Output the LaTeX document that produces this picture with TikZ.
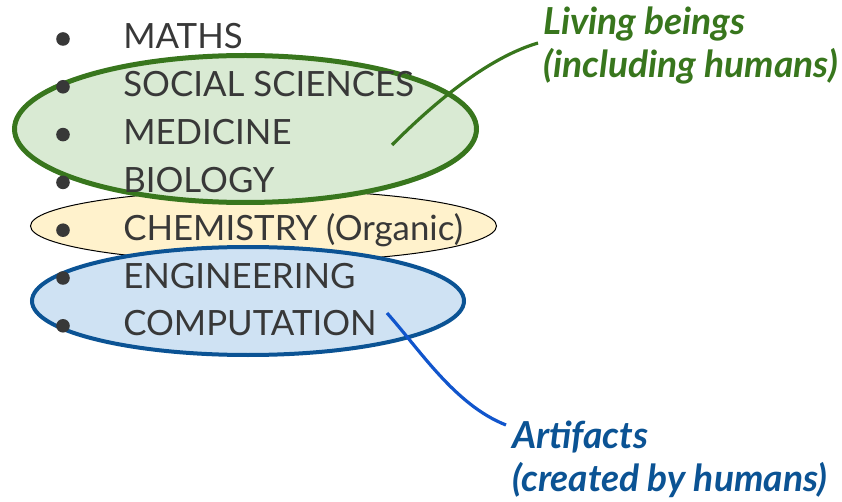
\documentclass[tikz,border=0pt]{standalone}
\usepackage{fontspec}
\setmainfont{Lato}
\definecolor{inkgray}{HTML}{383838}
\definecolor{leafgreen}{HTML}{38761D}
\definecolor{leaffill}{HTML}{D9EAD3}
\definecolor{chemfill}{HTML}{FFF2CC}
\definecolor{toolblue}{HTML}{0B5394}
\definecolor{toolfill}{HTML}{CFE2F3}
\definecolor{lineblue}{HTML}{1155CC}
\tikzset{
    item/.style={anchor=base west,inner sep=0,text=inkgray,font=\fontsize{26.1}{32}\selectfont},
    tag/.style={anchor=north west,inner sep=0,align=left,font=\fontsize{27.9}{32.25}\selectfont\bfseries\itshape},
}
\begin{document}
\begin{tikzpicture}[x=0.75pt,y=-0.75pt]
    \useasboundingbox (0,0) rectangle (842,502);

    % the three groups
    \draw[line width=0.75pt,black,fill=chemfill] (263.5,226) ellipse [x radius=233,y radius=36];
    \draw[line width=3.75pt,leafgreen,fill=leaffill] (245.5,129) ellipse [x radius=231,y radius=73.5];
    \draw[line width=3pt,toolblue,fill=toolfill] (248,301) ellipse [x radius=216,y radius=54];

    % the list
    \foreach \name/\txt [count=\i] in {maths/MATHS,social/SOCIAL SCIENCES,medicine/MEDICINE,biology/BIOLOGY,chemistry/CHEMISTRY (Organic),engineering/ENGINEERING,computation/COMPUTATION}{
        \fill[inkgray] (63,{39+47.8*(\i-1)}) circle (6.8);
        \node[item] (\name) at (123,{49+47.8*(\i-1)}) {\txt};
    }

    % labels
    \node[tag,text=leafgreen] (living) at (543,7) {Living beings\\(including humans)};
    \node[tag,text=toolblue] (artifacts) at (512,421) {Artifacts\\(created by humans)};

    \coordinate (livfoot) at (392,145);
    \coordinate (livtip) at (538,43);
    \coordinate (artfoot) at (387,313);
    \coordinate (arttip) at (506,425);
    \draw[line width=2.4pt,leafgreen] (livfoot) .. controls (420,117) and (480,60) .. (livtip);
    \draw[line width=2.4pt,lineblue] (artfoot) .. controls (420,350) and (455,405) .. (arttip);
\end{tikzpicture}
\end{document}
